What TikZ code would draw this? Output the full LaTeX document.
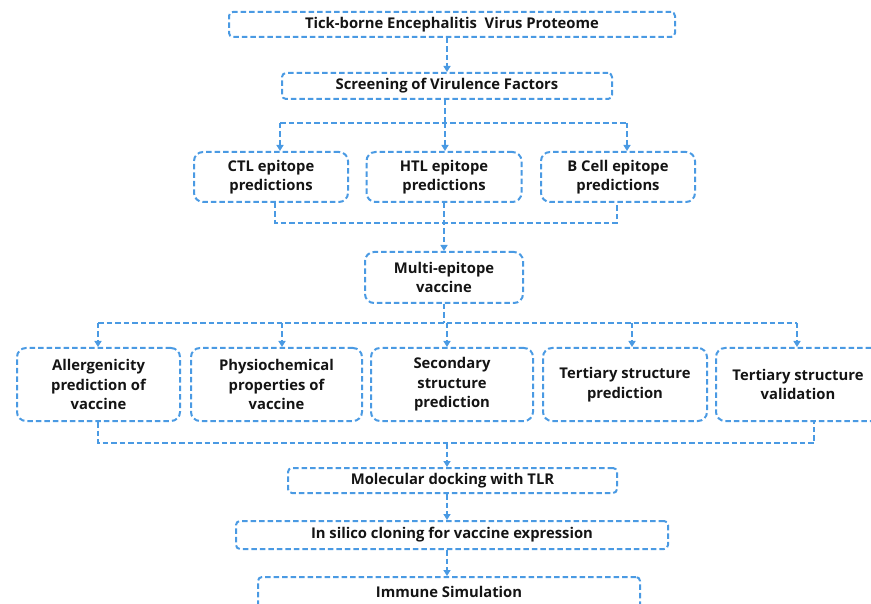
\documentclass[tikz,border=0pt]{standalone}
\usepackage{fontspec}
\setmainfont{Open Sans}
\usetikzlibrary{arrows.meta,calc}
\definecolor{lb}{HTML}{4A9AE3}
\definecolor{tx}{HTML}{141414}
\begin{document}
\begin{tikzpicture}[x=1pt,y=-1pt,
  lbl/.style={font=\fontsize{14.8}{19.6}\selectfont\bfseries,text=tx},
  box/.style={lbl,draw=lb,line width=2pt,dash pattern=on 5.5pt off 3pt,rounded corners=4pt,
    align=center,inner sep=0pt},
  big/.style={box,rounded corners=9pt},
  ln/.style={draw=lb,line width=2pt,dash pattern=on 5.5pt off 3pt},
  arr/.style={ln,-{Triangle[length=6pt,width=7pt]}}]
\useasboundingbox (0,0) rectangle (871,604);
\clip (0,0) rectangle (871,604);
% nodes
\node[box,minimum width=446pt,minimum height=25pt] (top) at (452,24.5) {Tick-borne Encephalitis\ \ Virus Proteome};
\node[box,minimum width=330pt,minimum height=26pt] (screen) at (447,86) {Screening of Virulence Factors};
\node[big,minimum width=154pt,minimum height=50pt] (ctl) at (271,177) {CTL epitope\\predictions};
\node[big,minimum width=155pt,minimum height=50pt] (htl) at (444,177) {HTL epitope\\predictions};
\node[big,minimum width=154pt,minimum height=50pt] (bcell) at (618,177) {B Cell epitope\\predictions};
\node[big,minimum width=158pt,minimum height=51pt] (multi) at (444,277.5) {Multi-epitope\\vaccine};
\node[big,minimum width=163pt,minimum height=73pt] (A) at (98.5,384.5) {Allergenicity\\prediction of\\vaccine};
\node[big,minimum width=171pt,minimum height=73pt] (P) at (276.5,384.5) {Physiochemical\\properties of\\vaccine};
\node[big,minimum width=162pt,minimum height=73pt] (S) at (452,384.5) {Secondary\\structure\\prediction};
\node[big,minimum width=164pt,minimum height=73pt] (T) at (625,384.5) {Tertiary structure\\prediction};
\node[big,minimum width=164pt,minimum height=73pt] (V) at (798,384.5) {Tertiary structure\\validation};
\node[box,minimum width=329pt,minimum height=25pt] (mol) at (452.5,480.5) {Molecular docking with TLR};
\node[box,minimum width=432pt,minimum height=28pt] (silico) at (452,535) {In silico cloning for vaccine expression};
\node[box,minimum width=382pt,minimum height=33pt] (immune) at (449,593.5) {};
\node[lbl,inner sep=0pt] (immunet) at (449,592) {Immune Simulation};
% connectors
\draw[arr] (top.south -| screen.north) -- (screen.north);
\coordinate (j1l) at (280,123);
\coordinate (j1c) at (445,123);
\coordinate (j1r) at (627,123);
\draw[ln] (screen.south -| j1c) -- (j1c);
\draw[ln] (j1l) -- (j1r);
\draw[arr] (j1l) -- (j1l |- ctl.north);
\draw[arr] (j1c) -- (j1c |- htl.north);
\draw[arr] (j1r) -- (j1r |- bcell.north);
\coordinate (m1l) at (275,223);
\coordinate (m1r) at (617,223);
\draw[ln] (m1l |- ctl.south) -- (m1l) -- (m1r) -- (m1r |- bcell.south);
\draw[arr] (htl.south) -- (htl.south |- multi.north);
\coordinate (j2l) at (98,323);
\coordinate (j2b) at (282,323);
\coordinate (j2c) at (447,323);
\coordinate (j2d) at (632,323);
\coordinate (j2r) at (797,323);
\draw[ln] (multi.south) -- (multi.south |- j2c);
\draw[ln] (j2l) -- (j2r);
\draw[arr] (j2l) -- (j2l |- A.north);
\draw[arr] (j2b) -- (j2b |- P.north);
\draw[arr] (j2c) -- (j2c |- S.north);
\draw[arr] (j2d) -- (j2d |- T.north);
\draw[arr] (j2r) -- (j2r |- V.north);
\coordinate (m2l) at (98,443);
\coordinate (m2c) at (447,443);
\coordinate (m2r) at (814,443);
\draw[ln] (m2l |- A.south) -- (m2l) -- (m2r) -- (m2r |- V.south);
\draw[arr] (m2c) -- (m2c |- mol.north);
\draw[arr] (m2c |- mol.south) -- (m2c |- silico.north);
\draw[arr] (m2c |- silico.south) -- (m2c |- immune.north);
\end{tikzpicture}
\end{document}
